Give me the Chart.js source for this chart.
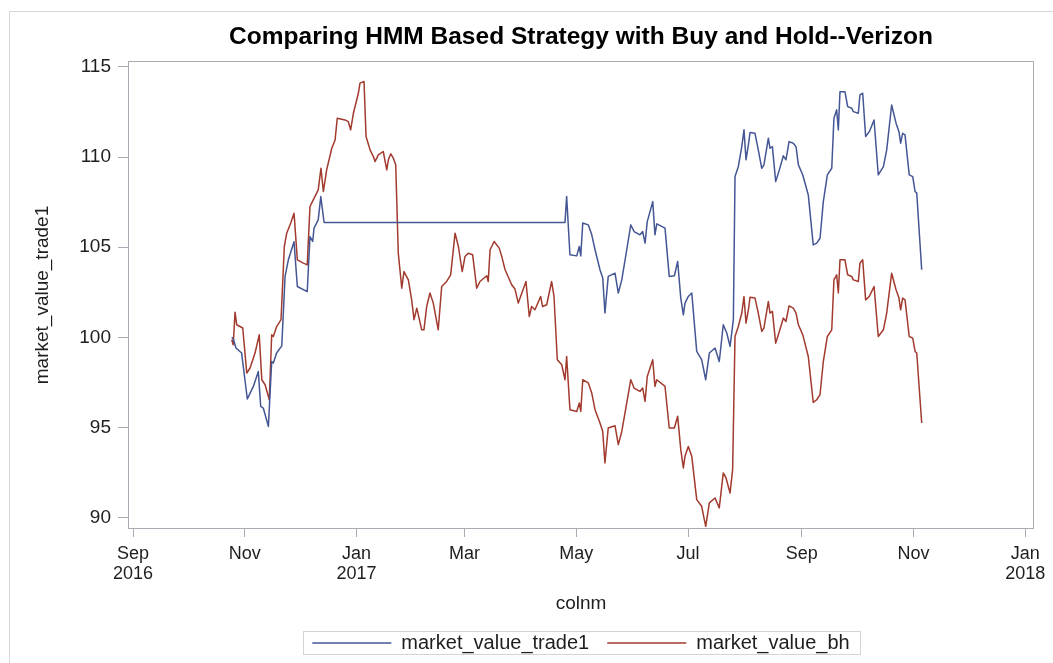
<!DOCTYPE html>
<html>
<head>
<meta charset="utf-8">
<script src="https://cdn.jsdelivr.net/npm/chart.js@4.4.1/dist/chart.umd.min.js"></script>
<style>
html,body{margin:0;padding:0;background:#fff;}
#wrap{position:relative;width:1053px;height:663px;}
</style>
</head>
<body>
<div id="wrap"><canvas id="c" width="1053" height="663"></canvas></div>
<script>
// ---- Data (x = days since 2016-09-01) ----
const tickDays = [0, 61, 122, 181, 242, 303, 365, 426, 487];
const tickLabels = [["Sep","2016"], "Nov", ["Jan","2017"], "Mar", "May", "Jul", "Sep", "Nov", ["Jan","2018"]];
const yTicks = [90, 95, 100, 105, 110, 115];

const trade1Days = [53.9,54.7,56.2,59.3,62.4,65.7,68.4,69.7,71.1,73.9,75.7,76.6,78.4,81.2,83.0,84.8,87.9,89.7,95.1,96.6,98.1,98.8,101.1,102.5,104.3,235.8,236.7,238.5,242.2,243.6,244.4,245.5,248.5,250.4,252.2,254.9,256.4,257.6,259.4,263.1,264.9,266.8,269.5,271.7,273.5,276.7,278.2,279.5,280.7,283.7,284.9,285.9,290.4,292.7,295.5,297.3,299.0,300.4,301.3,303.1,305.0,307.7,310.4,312.6,314.6,317.7,320.0,322.2,324.1,325.9,327.7,328.6,330.4,332.3,333.5,334.6,335.9,336.8,339.5,341.3,343.2,344.4,346.8,347.7,349.0,350.8,352.8,355.0,356.4,358.1,360.4,361.9,363.2,365.6,368.6,371.3,373.2,375.0,376.8,379.0,381.4,382.6,384.1,385.0,385.9,388.6,390.1,392.3,393.2,395.9,396.8,398.3,399.9,401.9,404.5,406.8,409.6,411.4,414.1,416.5,418.1,419.0,420.1,421.4,423.7,425.6,426.9,427.8,430.5];
const trade1Values = [100.0,99.92,99.41,99.13,96.58,97.28,98.11,96.17,96.08,95.06,98.66,98.58,99.13,99.53,103.38,104.30,105.30,102.82,102.54,105.59,105.32,106.06,106.52,107.81,106.37,106.37,107.81,104.58,104.52,105.04,104.52,106.34,106.24,105.69,104.86,103.75,103.29,101.35,103.38,103.56,102.46,103.19,104.86,106.24,105.87,105.69,105.87,105.23,106.42,107.53,105.69,106.30,106.06,103.38,103.42,104.21,102.18,101.25,101.90,102.27,102.46,99.22,98.76,97.65,99.13,99.41,98.66,100.70,100.24,99.50,100.98,108.92,109.47,110.58,111.51,109.85,110.68,111.36,111.32,110.40,109.38,109.57,111.05,110.49,110.58,108.64,109.29,110.07,109.85,110.86,110.77,110.58,109.57,109.01,107.90,105.13,105.23,105.50,107.53,109.01,109.38,112.16,112.62,111.51,113.63,113.63,112.80,112.71,112.52,112.43,113.45,113.54,111.14,111.41,112.06,109.01,109.47,110.40,112.89,111.88,111.41,110.77,111.32,111.23,109.01,108.92,108.09,108.00,103.75];

const bhDays = [53.9,54.7,55.7,56.6,59.9,62.1,63.9,66.6,68.9,70.3,72.1,74.4,75.7,76.6,78.4,80.8,82.6,83.9,86.1,87.9,89.7,93.0,95.1,96.6,98.4,101.1,102.6,103.9,105.7,108.5,110.3,111.5,115.7,117.5,118.8,120.3,123.0,123.9,126.1,127.2,129.4,131.2,132.1,133.9,136.6,138.5,139.4,140.7,142.1,143.4,144.8,146.7,147.9,150.3,152.1,153.4,154.9,157.6,158.8,160.3,162.1,163.9,166.6,168.5,171.2,173.4,175.8,177.6,179.7,181.2,183.0,185.4,187.6,189.4,193.1,193.9,194.9,197.1,199.9,201.3,203.1,206.7,208.5,210.3,214.5,216.3,217.6,219.4,222.5,223.6,225.8,228.5,229.8,231.6,234.0,235.8,236.7,238.5,242.2,243.6,244.4,245.5,248.5,250.4,252.2,254.9,256.4,257.6,259.4,263.1,264.9,266.8,269.5,271.7,273.5,276.7,278.2,279.5,280.7,283.7,284.9,285.9,290.4,292.7,295.5,297.3,299.0,300.4,301.3,303.1,305.0,307.7,310.4,312.6,314.6,317.7,320.0,322.2,323.7,325.9,327.3,328.6,330.4,332.3,333.5,334.6,335.9,336.8,339.5,341.3,343.2,344.4,346.8,347.7,349.0,350.8,352.8,355.0,356.4,358.1,360.4,361.9,363.2,365.6,368.6,371.3,373.2,375.0,376.8,379.0,381.4,382.6,384.1,385.0,385.9,388.6,390.1,392.3,393.2,395.9,396.8,398.3,399.9,401.9,404.5,406.8,409.6,411.4,414.1,416.5,418.1,419.0,420.1,421.4,423.7,425.6,426.9,427.8,430.5];
const bhValues = [99.87,99.59,101.40,100.70,100.52,98.02,98.30,99.13,100.14,97.65,97.37,96.54,100.14,100.05,100.60,100.98,105.04,105.78,106.34,106.89,104.30,104.12,104.02,107.26,107.63,108.18,109.38,108.09,109.29,110.49,110.95,112.16,112.06,111.97,111.51,112.43,113.54,114.10,114.19,111.14,110.40,110.03,109.75,110.12,110.31,109.29,109.85,110.18,109.94,109.57,104.67,102.73,103.65,103.19,102.08,100.98,101.62,100.42,100.42,101.71,102.46,101.90,100.42,102.82,103.10,103.47,105.78,105.04,103.65,104.48,104.67,104.58,102.73,103.10,103.42,103.10,104.86,105.32,104.95,104.48,103.75,102.92,102.68,101.90,103.10,101.16,101.71,101.53,102.27,101.71,101.81,103.10,102.27,98.76,98.48,97.65,98.94,95.99,95.89,96.36,95.89,97.65,97.47,96.91,95.99,95.25,94.78,93.03,94.97,95.10,94.05,94.78,96.36,97.65,97.19,97.00,97.19,96.45,97.83,98.76,97.28,97.65,97.28,94.97,94.97,95.62,93.77,92.76,93.40,93.95,93.40,91.00,90.63,89.52,90.82,91.09,90.54,92.48,92.20,91.37,92.66,100.05,100.60,101.35,102.27,100.79,101.53,102.23,102.18,101.35,100.33,100.52,101.99,101.35,101.44,99.68,100.33,101.07,100.88,101.75,101.62,101.35,100.70,100.14,98.94,96.39,96.54,96.82,98.66,100.05,100.42,103.19,103.47,102.46,104.30,104.30,103.47,103.38,103.19,103.10,104.12,104.30,102.08,102.27,102.82,100.05,100.42,101.35,103.56,102.64,102.18,101.53,102.18,102.08,100.05,99.96,99.22,99.13,95.25];

// ---- Styling ----
const FONT = "'Liberation Sans', Arial, Helvetica, sans-serif";
const AXIS_GRAY = '#a9adb3';
Chart.defaults.font.family = FONT;
Chart.defaults.color = '#1e1e1e';

const toPoints = (xs, ys) => xs.map((x, i) => ({x: x, y: ys[i]}));

const framePlugin = {
  id: 'frames',
  beforeDraw(chart) {
    const ctx = chart.ctx;
    ctx.save();
    ctx.fillStyle = '#fff';
    ctx.fillRect(0, 0, chart.width, chart.height);
    ctx.strokeStyle = '#d6d6d6';
    ctx.lineWidth = 1;
    ctx.strokeRect(9.5, 11.5, chart.width + 20, chart.height + 20);
    ctx.restore();
  },
  afterDraw(chart) {
    const ctx = chart.ctx;
    const a = chart.chartArea;
    ctx.save();
    ctx.strokeStyle = AXIS_GRAY;
    ctx.lineWidth = 1;
    ctx.strokeRect(Math.round(a.left) + 0.5, Math.round(a.top) + 0.5,
                   Math.round(a.right - a.left) - 1, Math.round(a.bottom - a.top) - 1);
    const lg = chart.legend;
    if (lg && lg.legendHitBoxes && lg.legendHitBoxes.length) {
      const hb = lg.legendHitBoxes;
      const first = hb[0], last = hb[hb.length - 1];
      const cy = first.top + first.height / 2;
      const l = Math.round(first.left - 9) + 0.5;
      const r = Math.round(last.left + last.width + 10) + 0.5;
      ctx.strokeStyle = '#d4d4d4';
      ctx.strokeRect(l, Math.round(cy - 12) + 0.5, r - l, 23);
    }
    ctx.restore();
  }
};

new Chart(document.getElementById('c'), {
  type: 'line',
  data: {
    datasets: [
      {
        label: 'market_value_trade1',
        data: toPoints(trade1Days, trade1Values),
        borderColor: '#445694',
        backgroundColor: '#445694',
        borderWidth: 1.5,
        pointRadius: 0,
        tension: 0,
        borderJoinStyle: 'round',
        fill: false
      },
      {
        label: 'market_value_bh',
        data: toPoints(bhDays, bhValues),
        borderColor: '#A23A2E',
        backgroundColor: '#A23A2E',
        borderWidth: 1.5,
        pointRadius: 0,
        tension: 0,
        borderJoinStyle: 'round',
        fill: false
      }
    ]
  },
  options: {
    responsive: false,
    animation: false,
    devicePixelRatio: 1,
    layout: { padding: { left: 0, right: 19, top: 0, bottom: 0 } },
    plugins: {
      title: {
        display: true,
        text: 'Comparing HMM Based Strategy with Buy and Hold--Verizon',
        fullSize: false,
        color: '#000',
        font: { family: FONT, size: 24.5, weight: 'bold' },
        padding: { top: 23, bottom: 8.6 }
      },
      legend: {
        display: true,
        position: 'bottom',
        fullSize: false,
        labels: {
          usePointStyle: true,
          pointStyle: 'line',
          pointStyleWidth: 79,
          padding: 18,
          color: '#1e1e1e',
          font: { family: FONT, size: 20 }
        }
      },
      tooltip: { enabled: false }
    },
    scales: {
      x: {
        type: 'linear',
        min: -2.73,
        max: 491.8,
        afterBuildTicks(scale) { scale.ticks = tickDays.map(v => ({ value: v })); },
        afterFit(scale) { scale.height = 86; },
        ticks: {
          autoSkip: false,
          maxRotation: 0,
          padding: 7,
          font: { family: FONT, size: 18, lineHeight: 1.1 },
          color: '#1e1e1e',
          callback(value) {
            const i = tickDays.indexOf(value);
            return i >= 0 ? tickLabels[i] : '';
          }
        },
        grid: { display: true, drawOnChartArea: false, drawTicks: true, tickLength: 8, color: AXIS_GRAY },
        border: { display: false },
        title: {
          display: true,
          text: 'colnm',
          color: '#1e1e1e',
          font: { family: FONT, size: 19 },
          padding: { top: 0, bottom: 0 }
        }
      },
      y: {
        type: 'linear',
        min: 89.37,
        max: 115.33,
        afterBuildTicks(scale) { scale.ticks = yTicks.map(v => ({ value: v })); },
        afterFit(scale) { scale.width = 128; },
        ticks: {
          padding: 7,
          font: { family: FONT, size: 19 },
          color: '#1e1e1e',
          callback(value) { return String(value); }
        },
        grid: { display: true, drawOnChartArea: false, drawTicks: true, tickLength: 10, color: AXIS_GRAY },
        border: { display: false },
        title: {
          display: true,
          text: 'market_value_trade1',
          color: '#1e1e1e',
          font: { family: FONT, size: 19 },
          padding: { top: 31, bottom: 0 }
        }
      }
    }
  },
  plugins: [framePlugin]
});
</script>
</body>
</html>
